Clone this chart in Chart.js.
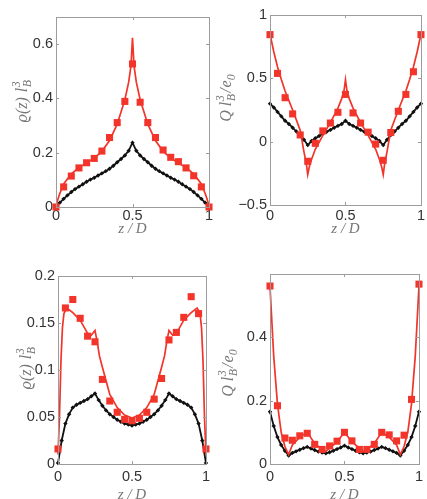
<!DOCTYPE html>
<html>
<head>
<meta charset="utf-8">
<script src="https://cdn.jsdelivr.net/npm/chart.js@4.4.1/dist/chart.umd.min.js"></script>
<style>
  html, body { margin: 0; padding: 0; background: #fff; width: 427px; height: 499px; overflow: hidden; }
  canvas { position: absolute; }
</style>
</head>
<body>
<canvas id="c1" width="214" height="250" style="left:0;top:0"></canvas>
<canvas id="c2" width="213" height="250" style="left:214px;top:0"></canvas>
<canvas id="c3" width="214" height="262" style="left:0;top:250px"></canvas>
<canvas id="c4" width="213" height="262" style="left:214px;top:250px"></canvas>
<script>
// simulation z positions (squares) and fine z positions (black curves)
const zSim = [0, 0.05, 0.1, 0.15, 0.2, 0.25, 0.3, 0.35, 0.4, 0.45, 0.5, 0.55, 0.6, 0.65, 0.7, 0.75, 0.8, 0.85, 0.9, 0.95, 1];
const zFine = [0, 0.025, 0.05, 0.075, 0.1, 0.125, 0.15, 0.175, 0.2, 0.225, 0.25, 0.275, 0.3, 0.325, 0.35, 0.375, 0.4, 0.425, 0.45, 0.475, 0.5,
  0.525, 0.55, 0.575, 0.6, 0.625, 0.65, 0.675, 0.7, 0.725, 0.75, 0.775, 0.8, 0.825, 0.85, 0.875, 0.9, 0.925, 0.95, 0.975, 1];

// top left: density
const rhoSimA = [0, 0.074, 0.114, 0.144, 0.163, 0.179, 0.206, 0.256, 0.311, 0.389, 0.527, 0.386, 0.311, 0.256, 0.21, 0.183, 0.167, 0.144, 0.115, 0.074, 0];
const zTheoryA = [0, 0.01, 0.025, 0.05, 0.1, 0.15, 0.2, 0.25, 0.3, 0.35, 0.4, 0.45, 0.475, 0.49, 0.5, 0.51, 0.525, 0.55, 0.6, 0.65, 0.7, 0.75, 0.8, 0.85, 0.9, 0.95, 0.975, 0.99, 1];
const rhoTheoryA = [0, 0.025, 0.05, 0.085, 0.122, 0.145, 0.162, 0.18, 0.205, 0.245, 0.305, 0.395, 0.46, 0.52, 0.623, 0.52, 0.46, 0.395, 0.305, 0.245, 0.205, 0.18, 0.162, 0.145, 0.122, 0.085, 0.05, 0.025, 0];
const rhoBlackA = [0, 0.016, 0.03, 0.043, 0.055, 0.066, 0.075, 0.084, 0.093, 0.101, 0.108, 0.116, 0.124, 0.132, 0.141, 0.152, 0.165, 0.177, 0.19, 0.207, 0.237,
  0.207, 0.19, 0.177, 0.165, 0.152, 0.141, 0.132, 0.124, 0.116, 0.108, 0.101, 0.093, 0.084, 0.075, 0.066, 0.055, 0.043, 0.03, 0.016, 0];

// top right: charge
const qSimA = [0.845, 0.539, 0.347, 0.219, 0.053, -0.155, -0.013, 0.085, 0.147, 0.232, 0.373, 0.227, 0.147, 0.075, -0.019, -0.147, 0.072, 0.24, 0.373, 0.552, 0.845];
const zTheoryB = [0, 0.025, 0.05, 0.075, 0.1, 0.15, 0.2, 0.225, 0.24, 0.25, 0.26, 0.275, 0.3, 0.35, 0.4, 0.45, 0.475, 0.49, 0.5,
  0.51, 0.525, 0.55, 0.6, 0.65, 0.7, 0.725, 0.74, 0.75, 0.76, 0.775, 0.8, 0.85, 0.9, 0.925, 0.95, 0.975, 1];
const qTheoryA = [0.85, 0.71, 0.59, 0.49, 0.40, 0.25, 0.09, -0.08, -0.17, -0.26, -0.2, -0.14, -0.06, 0.05, 0.15, 0.265, 0.34, 0.40, 0.49,
  0.40, 0.34, 0.265, 0.15, 0.05, -0.06, -0.14, -0.2, -0.26, -0.17, -0.08, 0.09, 0.25, 0.40, 0.49, 0.59, 0.71, 0.85];
const qBlackA = [0.30, 0.27, 0.235, 0.20, 0.165, 0.14, 0.11, 0.08, 0.053, 0.015, -0.027, 0.005, 0.027, 0.045, 0.062, 0.078, 0.093, 0.11, 0.125, 0.14, 0.165,
  0.14, 0.125, 0.11, 0.093, 0.078, 0.062, 0.045, 0.027, 0.005, -0.027, 0.015, 0.053, 0.08, 0.11, 0.14, 0.165, 0.20, 0.235, 0.27, 0.30];

// bottom left: density
const rhoSimB = [0.016, 0.166, 0.175, 0.155, 0.136, 0.130, 0.090, 0.067, 0.055, 0.0475, 0.046, 0.0486, 0.055, 0.069, 0.091, 0.132, 0.140, 0.156, 0.178, 0.160, 0.016];
const zTheoryC = [0, 0.01, 0.02, 0.03, 0.04, 0.06, 0.1, 0.15, 0.2, 0.225, 0.25, 0.265, 0.28, 0.3, 0.35, 0.4, 0.45, 0.5,
  0.55, 0.6, 0.65, 0.7, 0.72, 0.735, 0.75, 0.775, 0.8, 0.85, 0.9, 0.94, 0.96, 0.97, 0.98, 0.99, 1];
const rhoTheoryB = [0.01, 0.05, 0.11, 0.145, 0.16, 0.166, 0.161, 0.153, 0.139, 0.137, 0.142, 0.130, 0.115, 0.103, 0.074, 0.06, 0.052, 0.049,
  0.052, 0.06, 0.074, 0.103, 0.115, 0.130, 0.142, 0.137, 0.139, 0.153, 0.161, 0.166, 0.16, 0.145, 0.11, 0.05, 0.01];
const rhoBlackB = [0.001, 0.025, 0.043, 0.053, 0.06, 0.063, 0.065, 0.067, 0.069, 0.072, 0.075, 0.068, 0.062, 0.057, 0.053, 0.05, 0.047, 0.045, 0.043, 0.042, 0.041,
  0.042, 0.043, 0.045, 0.047, 0.05, 0.053, 0.057, 0.062, 0.068, 0.075, 0.072, 0.069, 0.067, 0.065, 0.063, 0.06, 0.053, 0.043, 0.025, 0.001];

// bottom right: charge
const qSimB = [0.562, 0.184, 0.082, 0.075, 0.089, 0.097, 0.062, 0.046, 0.057, 0.072, 0.10, 0.073, 0.046, 0.046, 0.062, 0.10, 0.092, 0.073, 0.091, 0.204, 0.568];
const zTheoryD = [0, 0.025, 0.05, 0.075, 0.1, 0.125, 0.15, 0.2, 0.25, 0.3, 0.35, 0.375, 0.4, 0.45, 0.5, 0.55, 0.6, 0.625, 0.65, 0.7, 0.75, 0.8, 0.85, 0.875, 0.9, 0.925, 0.95, 0.975, 1];
const qTheoryB = [0.56, 0.34, 0.19, 0.10, 0.055, 0.03, 0.06, 0.085, 0.10, 0.065, 0.045, 0.04, 0.05, 0.07, 0.10, 0.07, 0.05, 0.04, 0.045, 0.065, 0.10, 0.085, 0.06, 0.03, 0.055, 0.10, 0.19, 0.34, 0.56];
const qBlackB = [0.165, 0.12, 0.085, 0.06, 0.042, 0.027, 0.035, 0.04, 0.045, 0.05, 0.054, 0.049, 0.044, 0.039, 0.036, 0.034, 0.037, 0.042, 0.047, 0.052, 0.058,
  0.052, 0.047, 0.042, 0.037, 0.034, 0.036, 0.039, 0.044, 0.049, 0.054, 0.05, 0.045, 0.04, 0.035, 0.027, 0.042, 0.06, 0.085, 0.12, 0.165];

// tick labels
const xTicks = [0, 0.5, 1];
const yTicksA = [0, 0.2, 0.4, 0.6];
const yTicksB = [-0.5, 0, 0.5, 1];
const yTicksC = [0, 0.05, 0.1, 0.15, 0.2];
const yTicksD = [0, 0.2, 0.4];

const RED = "#f2342a";
const pts = (xs, ys) => xs.map((x, i) => ({ x, y: ys[i] }));
const fmt = (v) => (v < 0 ? "\u2212" + Math.abs(v) : String(v));

// g = gap after the part, in px
const rhoTitle = [{ t: "\u03F1(z)", g: 5 }, { t: "l", g: 0.5 }, { sup: "3", sub: "B" }];
const qTitle = [{ t: "Q", g: 4 }, { t: "l", g: 0.5 }, { sup: "3", sub: "B", g: 1 }, { t: "/", g: 1 }, { t: "e", g: 0 }, { sub: "0" }];

// frame + inward ticks like matlab
const boxPlugin = {
  id: "box",
  afterDraw(chart) {
    const { ctx, chartArea: a, scales } = chart;
    ctx.save();
    ctx.strokeStyle = "#9c9c9c";
    ctx.lineWidth = 1;
    ctx.strokeRect(Math.round(a.left) + 0.5, Math.round(a.top) + 0.5, Math.round(a.right - a.left), Math.round(a.bottom - a.top));
    ctx.beginPath();
    scales.x.ticks.forEach((t) => {
      const px = Math.round(scales.x.getPixelForValue(t.value)) + 0.5;
      ctx.moveTo(px, a.bottom); ctx.lineTo(px, a.bottom - 3);
      ctx.moveTo(px, a.top); ctx.lineTo(px, a.top + 3);
    });
    scales.y.ticks.forEach((t) => {
      const py = Math.round(scales.y.getPixelForValue(t.value)) + 0.5;
      ctx.moveTo(a.left, py); ctx.lineTo(a.left + 3, py);
      ctx.moveTo(a.right, py); ctx.lineTo(a.right - 3, py);
    });
    ctx.stroke();
    ctx.restore();
  }
};

// rotated y title with sub/superscripts
const yTitlePlugin = {
  id: "ytitle",
  afterDraw(chart, args, opts) {
    if (!opts.parts) return;
    const ctx = chart.ctx;
    const size = opts.size;
    const big = `italic ${size}px "Liberation Serif"`;
    const small = `italic ${Math.round(size * 0.72)}px "Liberation Serif"`;
    ctx.save();
    const widths = opts.parts.map((p) => {
      if (p.t) { ctx.font = big; return ctx.measureText(p.t).width; }
      ctx.font = small;
      return Math.max(p.sup ? ctx.measureText(p.sup).width : 0, p.sub ? ctx.measureText(p.sub).width : 0);
    });
    const len = widths.reduce((s, w, i) => s + w + (opts.parts[i].g || 0), 0);
    ctx.translate(opts.x, opts.y);
    ctx.rotate(-Math.PI / 2);
    ctx.fillStyle = "#777";
    ctx.textBaseline = "alphabetic";
    ctx.textAlign = "left";
    let u = -len / 2;
    opts.parts.forEach((p, i) => {
      if (p.t) { ctx.font = big; ctx.fillText(p.t, u, 0); }
      else {
        ctx.font = small;
        if (p.sup) ctx.fillText(p.sup, u, -size * 0.42);
        if (p.sub) ctx.fillText(p.sub, u, size * 0.28);
      }
      u += widths[i] + (p.g || 0);
    });
    ctx.restore();
  }
};

function makePanel(id, cx, cy, cw, ch, box, yMin, yMax, yTicks, sq, zTh, th, blk, title, xLabelPad, xTitlePad) {
  const tickFont = { family: "Liberation Sans", size: 14.5 };
  new Chart(document.getElementById(id), {
    type: "line",
    data: {
      datasets: [
        { data: pts(zSim, sq), showLine: false, pointStyle: "rect", pointRadius: 5, pointBackgroundColor: RED, pointBorderWidth: 0, clip: false },
        { data: pts(zTh, th), borderColor: RED, borderWidth: 1.7, pointRadius: 0, tension: 0, clip: false },
        { data: pts(zFine, blk), borderColor: "#111", borderWidth: 1.8, pointStyle: "rectRot", pointRadius: 2.2, pointBackgroundColor: "#111", pointBorderWidth: 0, tension: 0, clip: false }
      ]
    },
    options: {
      responsive: false,
      animation: false,
      layout: { autoPadding: false, padding: { top: box[1] - cy, right: cx + cw - box[2], left: 0, bottom: 0 } },
      plugins: {
        legend: { display: false },
        tooltip: { enabled: false },
        ytitle: title
      },
      scales: {
        x: {
          type: "linear", min: 0, max: 1,
          afterBuildTicks: (s) => { s.ticks = xTicks.map((v) => ({ value: v })); },
          afterFit: (s) => { s.height = cy + ch - box[3]; },
          ticks: { font: tickFont, color: "#333", padding: xLabelPad, maxRotation: 0, autoSkip: false, callback: fmt },
          grid: { display: false, drawTicks: false },
          border: { display: false },
          title: { display: true, text: "z\u2005/\u2005D", color: "#777", font: { family: "Liberation Serif", style: "italic", size: 15 }, padding: { top: 0, bottom: xTitlePad } }
        },
        y: {
          min: yMin, max: yMax,
          afterBuildTicks: (s) => { s.ticks = yTicks.map((v) => ({ value: v })); },
          afterFit: (s) => { s.width = box[0] - cx; },
          ticks: { font: tickFont, color: "#333", padding: 3, autoSkip: false, callback: fmt },
          grid: { display: false, drawTicks: false },
          border: { display: false }
        }
      }
    },
    plugins: [boxPlugin, yTitlePlugin]
  });
}

makePanel("c1", 0, 0, 214, 250, [56, 17, 209, 207], 0, 0.7, yTicksA, rhoSimA, zTheoryA, rhoTheoryA, rhoBlackA,
  { parts: rhoTitle, size: 16, x: 27, y: 101 }, 0, 12);
makePanel("c2", 214, 0, 213, 250, [270, 15, 422, 205], -0.5, 1, yTicksB, qSimA, zTheoryB, qTheoryA, qBlackA,
  { parts: qTitle, size: 16, x: 231 - 214, y: 98 }, 2, 12);
makePanel("c3", 0, 250, 214, 262, [58, 276, 212, 464], 0, 0.2, yTicksC, rhoSimB, zTheoryC, rhoTheoryB, rhoBlackB,
  { parts: rhoTitle, size: 16, x: 31, y: 368 - 250 }, 4, 8);
makePanel("c4", 214, 250, 213, 262, [270, 274, 422, 464], 0, 0.6, yTicksD, qSimB, zTheoryD, qTheoryB, qBlackB,
  { parts: qTitle, size: 16, x: 233 - 214, y: 373 - 250 }, 4, 8);
</script>
</body>
</html>
